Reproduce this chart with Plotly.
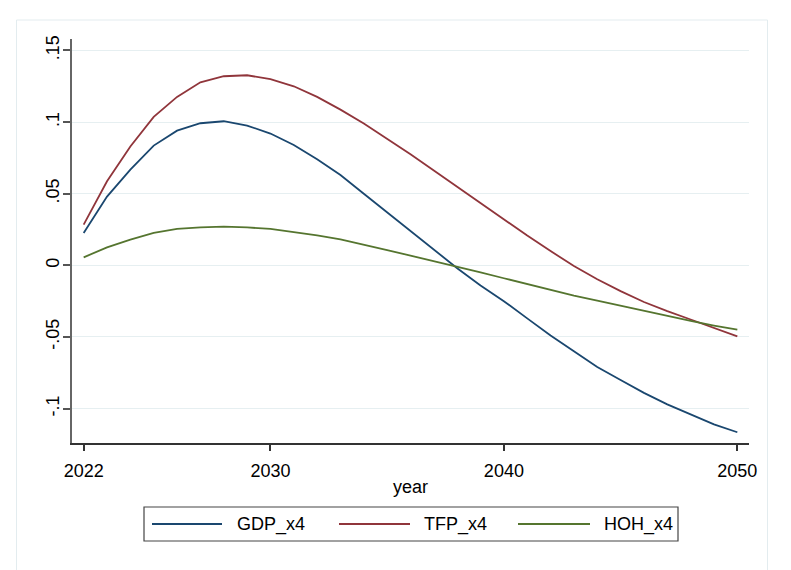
import plotly.graph_objects as go

# ---- data ----
years = list(range(2022, 2051))
gdp_x4 = [0.0226, 0.0480, 0.0668, 0.0836, 0.0940, 0.0992, 0.1006, 0.0976, 0.0920, 0.0840,
          0.0740, 0.0630, 0.0500, 0.0370, 0.0240, 0.0110, -0.0020, -0.0140, -0.0250, -0.0370,
          -0.0490, -0.0600, -0.0710, -0.0800, -0.0890, -0.0970, -0.1040, -0.1110, -0.1165]
tfp_x4 = [0.0284, 0.0587, 0.0830, 0.1036, 0.1176, 0.1278, 0.1320, 0.1327, 0.1300, 0.1250,
          0.1176, 0.1087, 0.0990, 0.0885, 0.0775, 0.0662, 0.0548, 0.0432, 0.0318, 0.0208,
          0.0100, -0.0005, -0.0097, -0.0180, -0.0256, -0.0320, -0.0378, -0.0437, -0.0496]
hoh_x4 = [0.0056, 0.0126, 0.0180, 0.0226, 0.0254, 0.0265, 0.0270, 0.0265, 0.0254, 0.0234,
          0.0210, 0.0182, 0.0147, 0.0107, 0.0068, 0.0030, -0.0008, -0.0049, -0.0090, -0.0131,
          -0.0172, -0.0211, -0.0247, -0.0283, -0.0318, -0.0352, -0.0388, -0.0420, -0.0449]
series_names = ["GDP_x4", "TFP_x4", "HOH_x4"]
series_values = [gdp_x4, tfp_x4, hoh_x4]
series_colors = ["#1a476f", "#90353b", "#55752f"]
y_tickvals = [-0.1, -0.05, 0, 0.05, 0.1, 0.15]
y_ticktext = ["-.1", "-.05", "0", ".05", ".1", ".15"]
x_tickvals = [2022, 2030, 2040, 2050]
x_ticktext = ["2022", "2030", "2040", "2050"]

# ---- layout geometry (pixels) ----
W, H = 791, 570
ML, MR, MT, MB = 72, 42, 39, 127
PW, PH = W - ML - MR, H - MT - MB
FONT = "Liberation Sans, Arial, sans-serif"


def px2x(px):
    return (px - ML) / PW


def px2y(py):
    return (H - MB - py) / PH


fig = go.Figure()
for name, vals, col in zip(series_names, series_values, series_colors):
    fig.add_trace(go.Scatter(x=years, y=vals, mode="lines", name=name,
                             line=dict(color=col, width=1.8), showlegend=False))

shapes = []
annotations = []
# outer graph-region frame
shapes.append(dict(type="rect", xref="paper", yref="paper",
                   x0=px2x(16.5), x1=px2x(767.5), y0=px2y(578), y1=px2y(20),
                   line=dict(color="#e3ecef", width=1), fillcolor="rgba(0,0,0,0)",
                   layer="below"))
# legend box
shapes.append(dict(type="rect", xref="paper", yref="paper",
                   x0=px2x(144), x1=px2x(678), y0=px2y(541), y1=px2y(507),
                   line=dict(color="#444444", width=1.2), fillcolor="white"))
line_x = [(152, 222), (339, 410), (518, 590)]
text_x = [235, 422, 602]
leg_y = 524
for (a, b), tx, name, col in zip(line_x, text_x, series_names, series_colors):
    shapes.append(dict(type="line", xref="paper", yref="paper",
                       x0=px2x(a), x1=px2x(b), y0=px2y(leg_y), y1=px2y(leg_y),
                       line=dict(color=col, width=1.8)))
    annotations.append(dict(text=name, xref="paper", yref="paper",
                            x=px2x(tx), y=px2y(leg_y), xanchor="left", yanchor="middle",
                            showarrow=False, font=dict(family=FONT, size=18, color="black")))
# x-axis title
annotations.append(dict(text="year", xref="paper", yref="paper",
                        x=0.5, y=px2y(487), xanchor="center", yanchor="middle",
                        showarrow=False, font=dict(family=FONT, size=18, color="black")))

fig.update_layout(
    width=W, height=H,
    margin=dict(l=ML, r=MR, t=MT, b=MB),
    paper_bgcolor="white", plot_bgcolor="white",
    font=dict(family=FONT, size=18, color="black"),
    shapes=shapes, annotations=annotations,
    showlegend=False,
)
fig.update_xaxes(range=[2021.5, 2050.5], tickvals=x_tickvals, ticktext=x_ticktext,
                 showgrid=False, zeroline=False, showline=True, linecolor="#333333",
                 linewidth=2, ticks="outside", ticklen=6, tickwidth=1.5, tickcolor="#333333",
                 tickfont=dict(family=FONT, size=18, color="black"), ticklabelstandoff=4)
fig.update_yaxes(range=[-0.124, 0.158], tickvals=y_tickvals, ticktext=y_ticktext,
                 tickangle=-90, showgrid=True, gridcolor="#e6eff1", gridwidth=1,
                 zeroline=False, showline=True, linecolor="#666666", linewidth=2,
                 ticks="outside", ticklen=7, tickwidth=1.5, tickcolor="#555555",
                 tickfont=dict(family=FONT, size=18, color="black"), ticklabelstandoff=-3)

fig.write_html("out.html")
